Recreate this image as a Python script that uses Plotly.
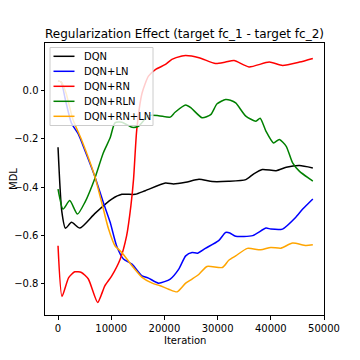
import plotly.graph_objects as go

# DQN (black)
dqn_x = [0, 700, 1400, 2530, 4100, 6900, 10100, 12000, 14500, 16400, 20200, 21700, 24000,
         26500, 29000, 32000, 35300, 36800, 38400, 41000, 42900, 45400, 47900]
dqn_y = [-0.235, -0.50, -0.571, -0.546, -0.570, -0.51, -0.45, -0.43, -0.43, -0.415, -0.383, -0.387, -0.380,
         -0.368, -0.377, -0.376, -0.369, -0.345, -0.327, -0.332, -0.318, -0.311, -0.321]

# DQN+LN (blue)
ln_x = [0, 600, 1300, 2500, 3800, 5000, 6900, 8500, 9800, 11000, 12300, 13900, 15800, 17000, 18900,
        21100, 22700, 24000, 25200, 26200, 27700, 30200, 31500, 32300, 33400, 36600, 39100, 40000,
        42200, 44700, 46000, 47900]
ln_y = [0.04, 0.035, -0.03, -0.134, -0.18, -0.245, -0.355, -0.463, -0.546, -0.643, -0.698, -0.719, -0.768,
        -0.777, -0.798, -0.781, -0.74, -0.685, -0.671, -0.674, -0.654, -0.622, -0.588, -0.590, -0.604,
        -0.601, -0.57, -0.574, -0.574, -0.525, -0.491, -0.449]

# DQN+RN (red)
rn_x = [0, 750, 2000, 3150, 4400, 5700, 7450, 8800, 10100, 11700, 12900, 13700, 14200, 14800, 15800,
        17000, 18300, 20200, 21400, 23300, 24000, 26500, 29600, 31500, 33100, 35900, 39700, 42200,
        45400, 47900]
rn_y = [-0.643, -0.853, -0.775, -0.751, -0.754, -0.781, -0.878, -0.809, -0.768, -0.698, -0.601, -0.477,
        -0.366, -0.162, -0.01, 0.06, 0.087, 0.108, 0.129, 0.143, 0.145, 0.136, 0.112, 0.118, 0.124,
        0.098, 0.118, 0.104, 0.118, 0.133]

# DQN+RLN (green)
rln_x = [0, 950, 2200, 3650, 5050, 6900, 8500, 9800, 10700, 12000, 13900, 15100, 17000, 18900, 21100,
         22000, 24000, 25000, 27100, 28700, 29900, 31500, 32400, 33400, 35300, 37200, 38000, 39100,
         40500, 41600, 42900, 44100, 45400, 47300, 47900]
rln_y = [-0.408, -0.491, -0.456, -0.512, -0.463, -0.365, -0.259, -0.196, -0.134, -0.131, -0.152, -0.148,
         -0.104, -0.104, -0.11, -0.09, -0.06, -0.072, -0.113, -0.10, -0.055, -0.037, -0.04, -0.051,
         -0.106, -0.127, -0.115, -0.169, -0.217, -0.203, -0.231, -0.30, -0.335, -0.366, -0.375]

# DQN+RN+LN (orange)
rnln_x = [0, 600, 1500, 2800, 4400, 6900, 8200, 9500, 10700, 12000, 13900, 15800, 17700, 19200, 20800,
          22400, 24000, 25200, 26500, 28000, 30900, 32100, 33400, 35600, 38100, 40000, 41900, 44100,
          46600, 47900]
rnln_y = [0.04, 0.035, -0.01, -0.12, -0.203, -0.355, -0.463, -0.574, -0.643, -0.671, -0.726, -0.774,
          -0.798, -0.809, -0.823, -0.834, -0.798, -0.781, -0.761, -0.729, -0.733, -0.703, -0.685,
          -0.654, -0.66, -0.65, -0.653, -0.632, -0.642, -0.639]

series_names = ["DQN", "DQN+LN", "DQN+RN", "DQN+RLN", "DQN+RN+LN"]
series_x = [dqn_x, ln_x, rn_x, rln_x, rnln_x]
series_y = [dqn_y, ln_y, rn_y, rln_y, rnln_y]
series_colors = ["black", "blue", "red", "green", "orange"]

fig = go.Figure()
for name, xs, ys, col in zip(series_names, series_x, series_y, series_colors):
    fig.add_trace(go.Scatter(x=xs, y=ys, mode="lines", name=name, showlegend=False,
                             line=dict(color=col, width=1.5, shape="spline", smoothing=0.6)))

font = "DejaVu Sans"
W, H = 360, 360
L, R, T, B = 45, 36, 43, 45
PW, PH = W - L - R, H - T - B


def px_x(p):
    return (p - L) / PW


def px_y(p):
    return (H - B - p) / PH


# Matplotlib-style legend box (drawn as decoration in paper coordinates)
shapes = [dict(type="rect", xref="paper", yref="paper", layer="above",
               x0=px_x(50), x1=px_x(153), y0=px_y(125.5), y1=px_y(47.5),
               fillcolor="rgba(255,255,255,0.8)", line=dict(color="#cccccc", width=1))]
annotations = []
row_y = [56.3, 71.3, 86.3, 101.3, 116.3]
for name, col, ry in zip(series_names, series_colors, row_y):
    shapes.append(dict(type="line", xref="paper", yref="paper", layer="above",
                       x0=px_x(53.5), x1=px_x(74.5), y0=px_y(ry), y1=px_y(ry),
                       line=dict(color=col, width=1.5)))
    annotations.append(dict(text=name, xref="paper", yref="paper", x=px_x(82), y=px_y(ry),
                            xanchor="left", yanchor="middle", showarrow=False,
                            font=dict(family=font, size=10, color="black")))

annotations += [
    dict(text="Iteration", xref="paper", yref="paper", x=0.5, y=-(340 - 315) / PH,
         xanchor="center", yanchor="middle", showarrow=False,
         font=dict(family=font, size=10, color="black")),
    dict(text="MDL", xref="paper", yref="paper", x=-(45 - 13) / PW, y=0.5,
         xanchor="center", yanchor="middle", showarrow=False, textangle=-90,
         font=dict(family=font, size=10, color="black")),
]

axis_common = dict(showline=True, linecolor="black", linewidth=1, mirror=True,
                   ticks="outside", ticklen=3.5, tickwidth=1, tickcolor="black",
                   showgrid=False, zeroline=False, automargin=False,
                   tickfont=dict(family=font, size=10, color="black"))

fig.update_layout(
    width=W, height=H,
    margin=dict(l=L, r=R, t=T, b=B),
    paper_bgcolor="white", plot_bgcolor="white",
    font=dict(family=font, size=10, color="black"),
    title=dict(text="Regularization Effect (target fc_1 - target fc_2)",
               font=dict(family=font, size=12, color="black"),
               x=0.5, xref="paper", xanchor="center",
               y=1 - 34 / H, yref="container", yanchor="middle"),
    xaxis=dict(range=[-2450, 50000], tickvals=[0, 10000, 20000, 30000, 40000, 50000],
               ticktext=["0", "10000", "20000", "30000", "40000", "50000"],
               **axis_common),
    yaxis=dict(range=[-0.93, 0.197], tickvals=[-0.8, -0.6, -0.4, -0.2, 0.0],
               ticktext=["\u22120.8", "\u22120.6", "\u22120.4", "\u22120.2", "0.0"],
               **axis_common),
    showlegend=False,
    shapes=shapes,
    annotations=annotations,
)

fig.write_html("out.html", config={"displayModeBar": False},
               post_script="document.body.style.margin='0';")
